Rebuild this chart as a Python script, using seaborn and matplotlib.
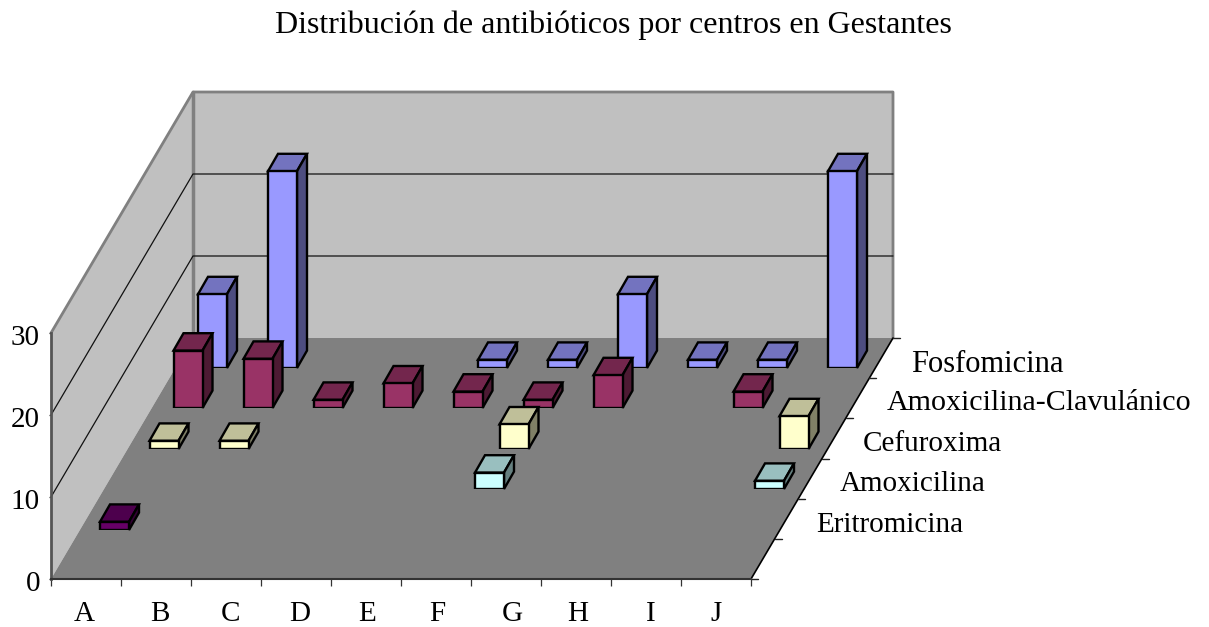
import numpy as np
import pandas as pd
import matplotlib
matplotlib.use("Agg")
import matplotlib.pyplot as plt
from matplotlib.patches import Polygon
from matplotlib.transforms import ScaledTranslation
import seaborn as sns

# ---------- data ----------
title = "Distribución de antibióticos por centros en Gestantes"
categories = ["A", "B", "C", "D", "E", "F", "G", "H", "I", "J"]
eritromicina = [1, 0, 0, 0, 0, 0, 0, 0, 0, 0]
amoxicilina = [0, 0, 0, 0, 0, 2, 0, 0, 0, 1]
cefuroxima = [1, 1, 0, 0, 0, 3, 0, 0, 0, 4]
amox_clav = [7, 6, 1, 3, 2, 1, 4, 0, 2, 0]
fosfomicina = [9, 24, 0, 0, 1, 1, 9, 1, 1, 24]
series_names = ["Eritromicina", "Amoxicilina", "Cefuroxima",
                "Amoxicilina-Clavulánico", "Fosfomicina"]
series_values = [eritromicina, amoxicilina, cefuroxima, amox_clav, fosfomicina]
series_colors = ["#660066", "#CCFFFF", "#FFFFCC", "#993366", "#9999FF"]
value_ticks = [0, 10, 20, 30]

# ---------- geometry (pixels) ----------
W, H = 1209, 627
FX0, FX1, FY = 51, 751, 579      # front floor edge
BX0, BX1, BY = 193, 893, 338     # back floor edge
TOP_H = 246                      # pixels for 0..30
ROW_LEFT = [79.5, 104.5, 129, 153, 177.5]
ROW_BASE = [530, 489, 449, 408, 368]
DEPTH_X, DEPTH_Y = 10, 17.4
BAR_W = 29 / 70
LABEL_X = [816, 840, 863, 887, 911]
LABEL_BASE = [532, 491, 451, 410, 372]
LABEL_FS = [21, 21, 21, 21.6, 22]
CAT_X = [84, 160, 231, 300, 367, 437, 512, 578, 651, 716]
FS = 21
SERIF = "Liberation Serif"

sns.set_theme(style="white", rc={"font.family": SERIF})
fig = plt.figure(figsize=(W / 100, H / 100), dpi=100, facecolor="white")


def axes_px(left, top, width, height, **kw):
    return fig.add_axes([left / W, 1 - (top + height) / H, width / W, height / H], **kw)


# frame: walls and floor, drawn in pixel space
frame = fig.add_axes([0, 0, 1, 1], zorder=0)
frame.set_xlim(0, W)
frame.set_ylim(H, 0)
frame.axis("off")
GREY = "#808080"
frame.add_patch(Polygon([(FX0, FY), (BX0, BY), (BX0, BY - TOP_H), (FX0, FY - TOP_H)],
                        fc="#C0C0C0", ec="none"))
frame.add_patch(Polygon([(BX0, BY), (BX1, BY), (BX1, BY - TOP_H), (BX0, BY - TOP_H)],
                        fc="#C0C0C0", ec="none"))
frame.plot([FX0, BX0, BX1, BX1], [FY - TOP_H, BY - TOP_H, BY - TOP_H, BY], color=GREY, lw=2)
frame.plot([BX0, BX0], [BY - TOP_H, BY], color=GREY, lw=2.5)
scale = TOP_H / value_ticks[-1]
for v in value_ticks[1:-1]:
    frame.plot([FX0, BX0, BX1], [FY - v * scale, BY - v * scale, BY - v * scale],
               color="#111111", lw=0.9)
frame.add_patch(Polygon([(FX0, FY), (FX1, FY), (BX1, BY), (BX0, BY)], fc=GREY, ec="none"))
frame.plot([FX1, BX1], [FY, BY], color="black", lw=1.2)
for k in range(7):
    t = k / 6
    x = FX1 + (BX1 - FX1) * t
    y = FY + (BY - FY) * t
    frame.plot([x, x + 7], [y, y], color="#222222", lw=1)
frame.text(613.5, 33, title, ha="center", va="baseline", fontsize=23, color="black")
for name, x, y, fs in zip(series_names, LABEL_X, LABEL_BASE, LABEL_FS):
    frame.text(x, y, name, ha="left", va="baseline", fontsize=fs, color="black")

# front axes: value scale and category ticks
val = axes_px(FX0, FY - TOP_H, FX1 - FX0, TOP_H, zorder=1)
val.patch.set_alpha(0)
val.set_xlim(0, len(categories))
val.set_ylim(value_ticks[0], value_ticks[-1])
val.set_yticks(value_ticks)
val.set_yticklabels([str(v) for v in value_ticks], fontsize=FS, color="black")
val.set_xticks(range(len(categories) + 1))
val.set_xticklabels([])
val.set_xticks([(x - FX0) / (FX1 - FX0) * len(categories) for x in CAT_X], minor=True)
val.set_xticklabels(categories, minor=True, fontsize=FS, color="black")
val.tick_params(axis="x", which="major", direction="out", length=5, width=0.9,
                color="#333333", bottom=True)
val.tick_params(axis="y", which="major", direction="out", length=1.5, width=0.9,
                color="#333333", left=True, pad=6.5)
val.tick_params(axis="x", which="minor", length=0, bottom=False, pad=15.5)
shift = ScaledTranslation(0, -2 / 100, fig.dpi_scale_trans)
for lab in val.get_yticklabels():
    lab.set_transform(lab.get_transform() + shift)
sns.despine(ax=val, top=True, right=True)
val.spines["left"].set(color="#555555", linewidth=2)
val.spines["bottom"].set(color="#333333", linewidth=1.5)
val.grid(False)

# one axes per depth row, back to front
for s in range(len(series_names) - 1, -1, -1):
    ax = axes_px(ROW_LEFT[s], ROW_BASE[s] - TOP_H, FX1 - FX0, TOP_H, zorder=10 - s)
    df = pd.DataFrame({"centro": categories, "n": series_values[s]})
    df = df[df["n"] > 0]
    sns.barplot(data=df, x="centro", y="n", order=categories, color=series_colors[s],
                saturation=1, width=BAR_W, edgecolor="black", linewidth=1.7, ax=ax, zorder=5)
    ax.set_xlim(-0.5, len(categories) - 0.5)
    ax.set_ylim(value_ticks[0], value_ticks[-1])
    ax.axis("off")
    dx = DEPTH_X / ((FX1 - FX0) / len(categories))
    dy = DEPTH_Y / scale
    rgb = np.array(matplotlib.colors.to_rgb(series_colors[s]))
    for p in list(ax.patches):
        x0, w, h = p.get_x(), p.get_width(), p.get_height()
        if not h > 0:
            continue
        x1 = x0 + w
        ax.add_patch(Polygon([(x0, h), (x1, h), (x1 + dx, h + dy), (x0 + dx, h + dy)],
                             fc=rgb * 0.75, ec="black", lw=1.7, joinstyle="miter", zorder=4,
                             clip_on=False))
        ax.add_patch(Polygon([(x1, 0), (x1 + dx, dy), (x1 + dx, h + dy), (x1, h)],
                             fc=rgb * 0.5, ec="black", lw=1.7, joinstyle="miter", zorder=4,
                             clip_on=False))

fig.savefig("out.png", dpi=100)
